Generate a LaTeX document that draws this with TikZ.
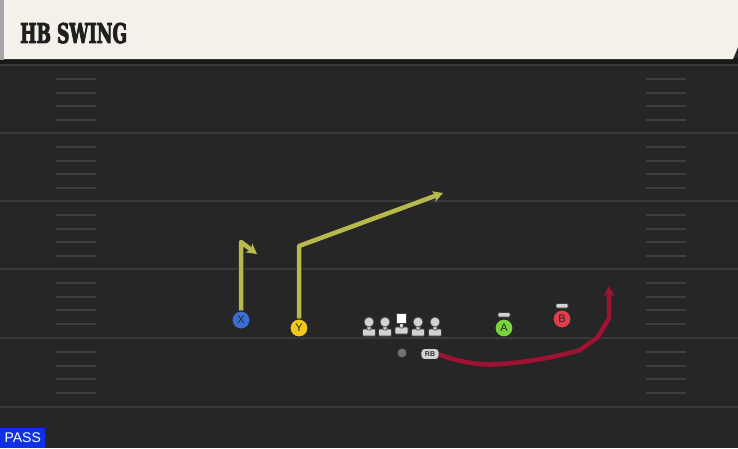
\documentclass[tikz,border=0pt]{standalone}
\usepackage{fontspec}
\setmainfont{Liberation Sans}
\newfontfamily\titlefont{DejaVu Serif}[FakeBold=4]
\usetikzlibrary{arrows.meta}
\definecolor{field}{HTML}{262626}
\definecolor{cream}{HTML}{F4F1EB}
\definecolor{yardc}{HTML}{3A3A3A}
\definecolor{hashc}{HTML}{3E3E3E}
\definecolor{routey}{HTML}{B8B94C}
\definecolor{routerb}{HTML}{9E1232}
\definecolor{pblue}{HTML}{3C6FD6}
\definecolor{pyellow}{HTML}{F2C81E}
\definecolor{pgreen}{HTML}{78D43A}
\definecolor{pred}{HTML}{E0404C}
\definecolor{olgray}{HTML}{D2D2D2}
\definecolor{passblue}{HTML}{1030E6}
\tikzset{
  yardline/.style={draw=yardc, line width=2pt},
  hashmark/.style={draw=hashc, line width=2pt},
  route/.style={line width=4.5pt, line join=round,
    preaction={draw=black!85, line width=6.5pt, line join=round}},
  yroute/.style={route, draw=routey, -{Stealth[length=10pt,width=11pt,inset=2.5pt]}},
  rbroute/.style={route, draw=routerb, -{Stealth[length=10pt,width=11pt,inset=2.5pt]}},
  player/.style={circle, minimum size=18pt, inner sep=0pt, draw=black!85, line width=1pt,
    font=\fontsize{11}{11}\selectfont, text=black!85},
  tbar/.style={fill=olgray, draw=black!75, line width=0.7pt, rounded corners=1pt},
}
\begin{document}
\begin{tikzpicture}[x=1pt,y=-1pt]
\useasboundingbox (0,0) rectangle (738,448);
\fill[field] (0,0) rectangle (738,448);
% header
\fill[black!90] (0,58) rectangle (738,64);
\fill[cream] (4,0) -- (738,0) -- (738,47) -- (733,59) -- (4,59) -- cycle;
\fill[black!35] (0,0) rectangle (4,60);
\node[anchor=south west, inner sep=0pt, text=black!88] (title) at (20,43.5)
  {\resizebox{107pt}{20pt}{\titlefont\bfseries HB SWING}};
% yard lines
\foreach \y in {65,133,201,269,338,407}
  \draw[yardline] (0,\y) -- (738,\y);
% hash marks
\foreach \y in {65,133,201,269,338}
  \foreach \o in {14,27.5,41,55}{
    \draw[hashmark] (56,\y+\o) -- (96,\y+\o);
    \draw[hashmark] (646,\y+\o) -- (686,\y+\o);
  }
% route bend coordinates
\coordinate (x1) at (241,242);
\coordinate (x2) at (257,254);
\coordinate (y1) at (299,246);
\coordinate (y2) at (443,193);
\coordinate (r1) at (500,364);
\coordinate (r2) at (580,350);
\coordinate (r3) at (598,337);
\coordinate (r4) at (609,318);
\coordinate (r5) at (609,286);
% players
\node[player, fill=pblue] (X) at (241,320) {X};
\node[player, fill=pyellow] (Y) at (299,328) {Y};
\draw[yroute] (X.north) -- (x1) -- (x2);
\draw[yroute] (Y.north) -- (y1) -- (y2);
\node[player, fill=pblue] at (241,320) {X};
\node[player, fill=pyellow] at (299,328) {Y};
% offensive line
\foreach \x/\n in {369/lt,385/lg,418/rg,435/rt}{
  \fill[tbar] (\x-6.5,329) rectangle (\x+6.5,336);
  \fill[tbar] (\x-2,323) rectangle (\x+2,330);
  \node[circle, fill=olgray, draw=black!75, line width=0.7pt, minimum size=10pt, inner sep=0pt] (\n) at (\x,322) {};
}
\fill[tbar] (395,327) rectangle (408,334);
\fill[tbar] (399.5,321) rectangle (403.5,328);
\node[rectangle, fill=white, draw=black!75, line width=0.7pt, minimum size=10pt, inner sep=0pt] (C) at (401.5,318) {};
% QB
\node[circle, fill=black!55, draw=black!85, line width=0.8pt, minimum size=10pt, inner sep=0pt] (QB) at (402,353) {};
% RB route
\draw[rbroute] (437,354) .. controls (460,362) and (480,366) .. (r1)
  .. controls (530,362) and (560,356) .. (r2) -- (r3) -- (r4) -- (r5);
\node[rectangle, rounded corners=3.5pt, fill=olgray, draw=black!85, line width=0.8pt,
  minimum width=18pt, minimum height=11pt, inner sep=0pt,
  font=\fontsize{7}{7}\selectfont\bfseries, text=black!80] (RB) at (430,354) {RB};
% receivers A and B
\fill[tbar] (498,312.5) rectangle (510,317);
\node[player, fill=pgreen] (A) at (504,328) {A};
\fill[tbar] (556,303.5) rectangle (568,308);
\node[player, fill=pred] (B) at (562,319) {B};
% PASS label
\node[anchor=south west, fill=passblue, text=white, inner xsep=3pt, inner ysep=0pt,
  minimum height=20pt, minimum width=45pt, font=\fontsize{14}{14}\selectfont] (pass) at (0,448) {PASS};
\end{tikzpicture}
\end{document}
